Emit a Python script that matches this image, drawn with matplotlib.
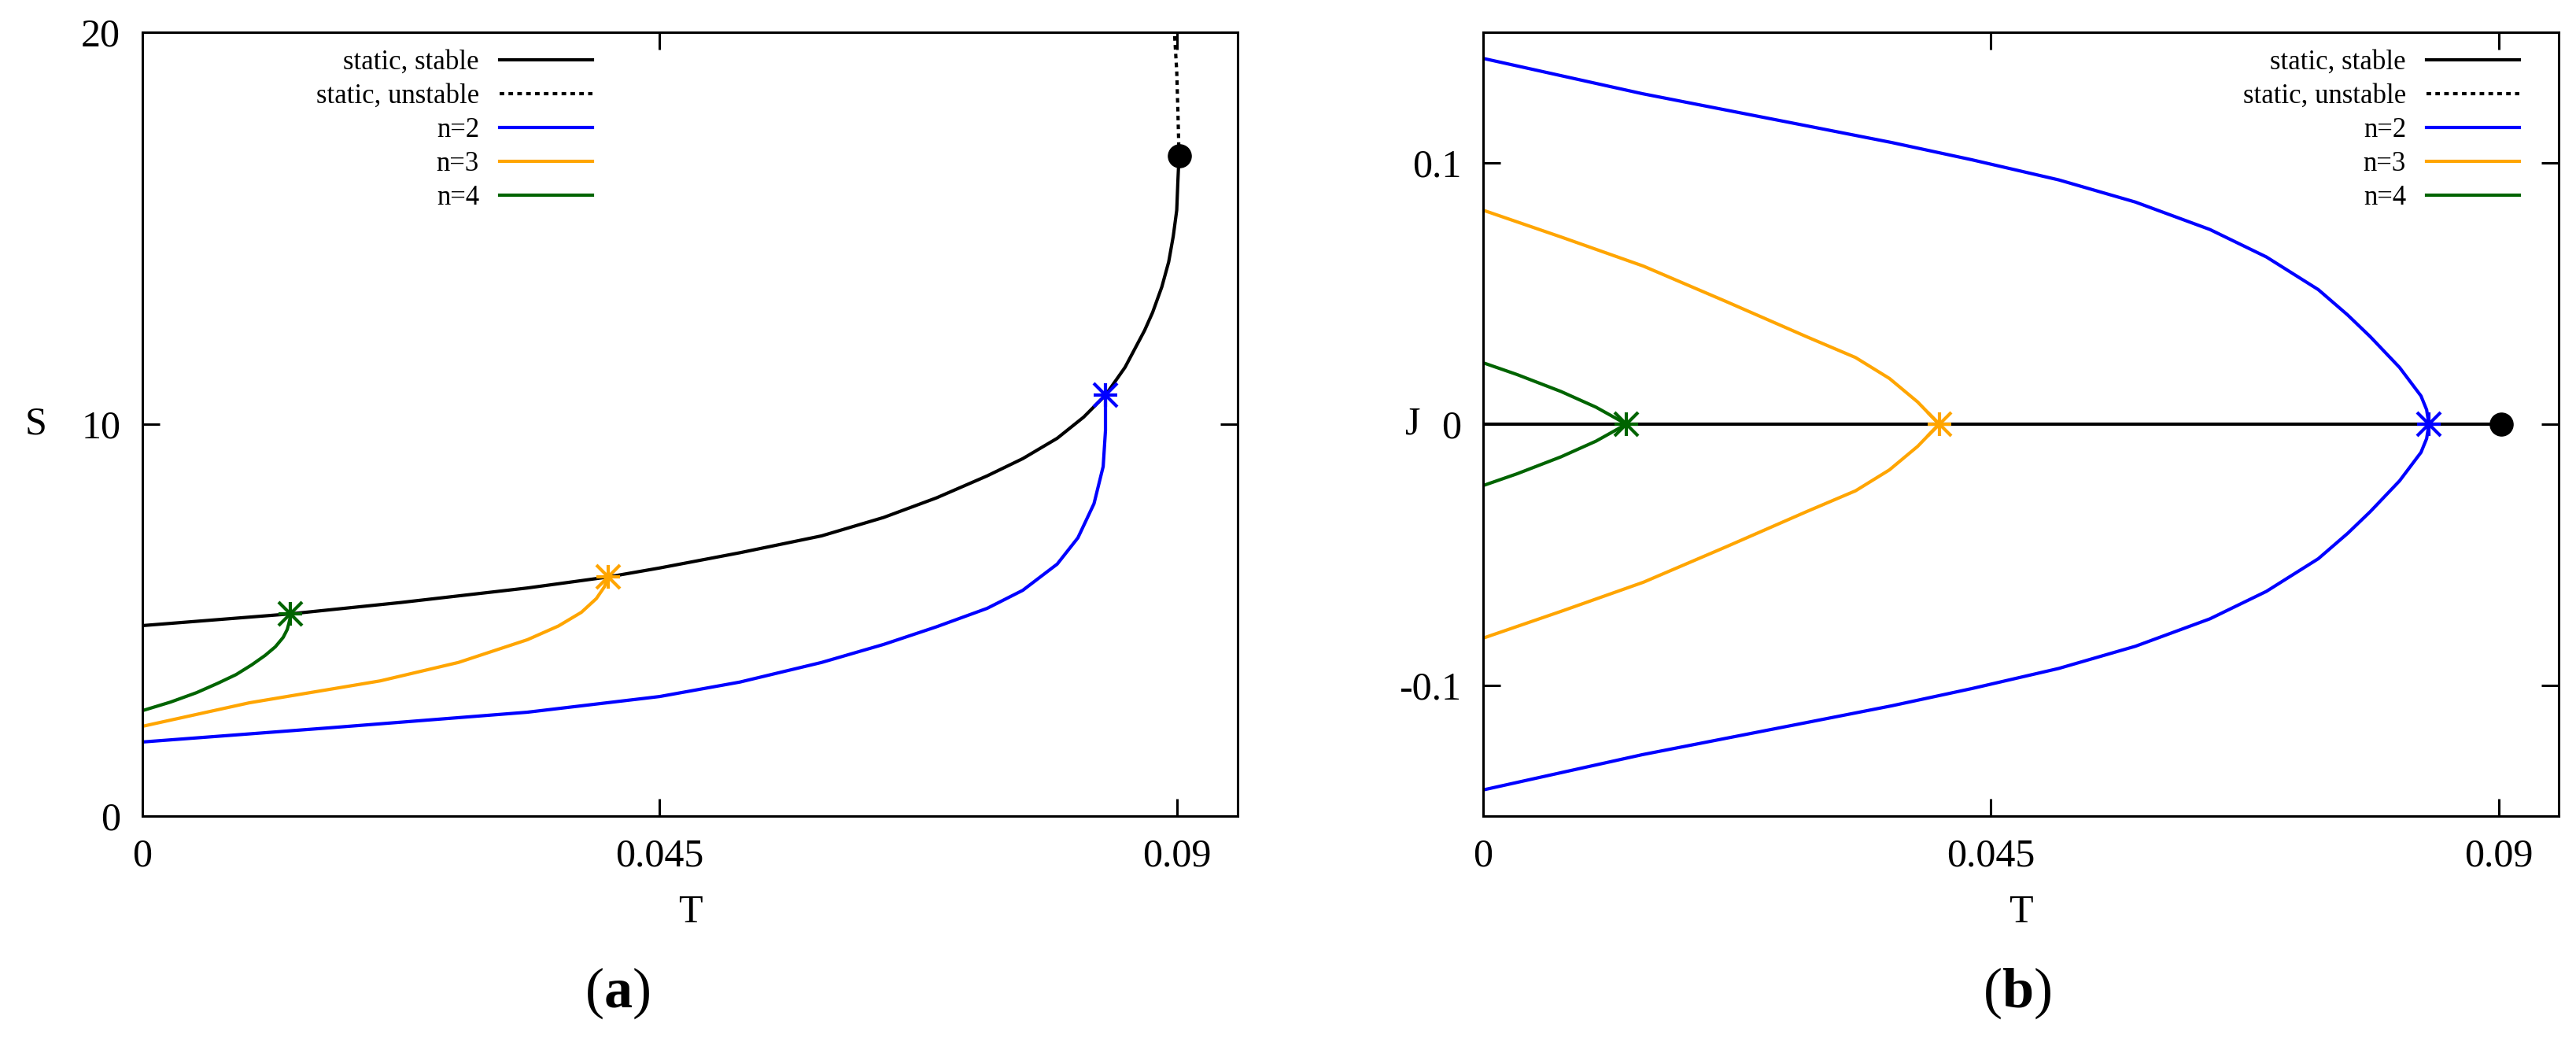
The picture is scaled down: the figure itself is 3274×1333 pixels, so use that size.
import numpy as np
import matplotlib
matplotlib.use('Agg')
import matplotlib.pyplot as plt
from matplotlib.lines import Line2D

plt.rcParams['font.family'] = ['Liberation Serif', 'DejaVu Serif']
plt.rcParams['mathtext.fontset'] = 'custom'
plt.rcParams['mathtext.rm'] = 'Liberation Serif'
plt.rcParams['mathtext.bf'] = 'Liberation Serif:bold'

# ---- data ----
# panel (a): S vs T
t_stable = [0.0, 0.0129, 0.0225, 0.0335, 0.0405, 0.045, 0.052, 0.0591, 0.0645, 0.0691,
            0.0735, 0.0766, 0.0796, 0.0819, 0.0838, 0.0855, 0.0872, 0.0879, 0.0887,
            0.0893, 0.0897, 0.0900, 0.0901, 0.0902]
s_stable = [4.86, 5.16, 5.45, 5.82, 6.10, 6.33, 6.72, 7.15, 7.62, 8.12,
            8.68, 9.12, 9.64, 10.18, 10.74, 11.45, 12.39, 12.85, 13.5,
            14.14, 14.8, 15.46, 16.2, 16.85]
t_unstable = [0.0902, 0.0901, 0.0900, 0.0898]
s_unstable = [16.85, 18.0, 19.0, 20.0]

t_n2 = [0.0, 0.0162, 0.0335, 0.045, 0.052, 0.0591, 0.0645, 0.0691, 0.0735, 0.0766,
        0.0796, 0.0814, 0.0828, 0.0836, 0.0838, 0.0838]
s_n2 = [1.89, 2.25, 2.65, 3.05, 3.42, 3.92, 4.38, 4.83, 5.30, 5.76,
        6.43, 7.10, 7.97, 8.92, 9.84, 10.74]
t_n3 = [0.0, 0.0093, 0.0207, 0.0275, 0.0335, 0.0362, 0.0382, 0.0395, 0.0402, 0.0405]
s_n3 = [2.29, 2.89, 3.45, 3.92, 4.50, 4.85, 5.20, 5.55, 5.85, 6.10]
t_n4 = [0.0, 0.00246, 0.00472, 0.00657, 0.00815, 0.00952, 0.01068, 0.01157, 0.01225,
        0.0126, 0.01273, 0.01285, 0.0129]
s_n4 = [2.69, 2.91, 3.15, 3.39, 3.61, 3.86, 4.10, 4.32, 4.56, 4.76, 4.90, 5.05, 5.16]

# bifurcation points (a)
bif_t = [0.0838, 0.0405, 0.0129]
bif_s = [10.74, 6.10, 5.16]
crit_t = 0.0902
crit_s = 16.85

# panel (b): J vs T  (upper branch then lower branch)
tj_static = [0.0, 0.0902]
j_static = [0.0, 0.0]
tj_n2 = [0.0, 0.0141, 0.0289, 0.0362, 0.0433, 0.051, 0.0578, 0.0644, 0.0694, 0.074,
         0.0766, 0.0786, 0.0812, 0.0831, 0.0836, 0.0838,
         0.0836, 0.0831, 0.0812, 0.0786, 0.0766, 0.074, 0.0694, 0.0644, 0.0578, 0.051,
         0.0433, 0.0362, 0.0289, 0.0141, 0.0]
j_n2 = [0.140, 0.1265, 0.1140, 0.1078, 0.1012, 0.0935, 0.0850, 0.0745, 0.0640, 0.0515,
        0.0418, 0.0335, 0.0217, 0.0108, 0.0055, 0.0,
        -0.0055, -0.0108, -0.0217, -0.0335, -0.0418, -0.0515, -0.0640, -0.0745, -0.0850,
        -0.0935, -0.1012, -0.1078, -0.1140, -0.1265, -0.140]
tj_n3 = [0.0, 0.007, 0.0142, 0.0215, 0.0287, 0.033, 0.036, 0.0385, 0.0404,
         0.0385, 0.036, 0.033, 0.0287, 0.0215, 0.0142, 0.007, 0.0]
j_n3 = [0.0819, 0.0715, 0.0605, 0.047, 0.0334, 0.0255, 0.0175, 0.0085, 0.0,
        -0.0085, -0.0175, -0.0255, -0.0334, -0.047, -0.0605, -0.0715, -0.0819]
tj_n4 = [0.0, 0.003, 0.0069, 0.0100, 0.0127, 0.0100, 0.0069, 0.003, 0.0]
j_n4 = [0.0235, 0.0190, 0.0125, 0.0065, 0.0, -0.0065, -0.0125, -0.0190, -0.0235]
bif_tj = [0.0838, 0.0404, 0.0127]

labels = ['static, stable', 'static, unstable', 'n=2', 'n=3', 'n=4']
colors = ['black', 'black', '#0000ff', '#ffa500', '#006400']

LW = 3.0
DOT = (0, (1.4, 1.3))

fig = plt.figure(figsize=(32.74, 13.33), dpi=100)
ax1 = fig.add_axes([181/3274, 1 - 1037/1333, (1573-181)/3274, 996/1333])
ax2 = fig.add_axes([1885/3274, 1 - 1037/1333, (3252-1885)/3274, 996/1333])


def star(ax, x, y, c):
    ax.plot(x, y, ls='none', marker='+', ms=22, mew=3, color=c, zorder=5)
    ax.plot(x, y, ls='none', marker='x', ms=22, mew=3, color=c, zorder=5)


# (a)
ax1.plot(t_stable, s_stable, color='black', lw=LW)
ax1.plot(t_unstable, s_unstable, color='black', lw=LW, ls=DOT)
ax1.plot(t_n2, s_n2, color=colors[2], lw=LW)
ax1.plot(t_n3, s_n3, color=colors[3], lw=LW)
ax1.plot(t_n4, s_n4, color=colors[4], lw=LW)
for i in range(3):
    star(ax1, bif_t[i], bif_s[i], colors[2 + i])
ax1.plot(crit_t, crit_s, 'o', color='black', ms=21, zorder=6)
ax1.set_xlim(0, 0.0953)
ax1.set_ylim(0, 20)
ax1.set_xticks([0, 0.045, 0.09])
ax1.set_xticklabels(['0', '0.045', '0.09'])
ax1.set_yticks([0, 10, 20])
ax1.set_xlabel('T', fontsize=36, labelpad=18)
ax1.set_ylabel('S', fontsize=36, rotation=0, ha='center', va='center')
ax1.yaxis.set_label_coords(-0.097, 0.5)

# (b)
ax2.plot(tj_static, j_static, color='black', lw=LW)
ax2.plot(tj_n2, j_n2, color=colors[2], lw=LW)
ax2.plot(tj_n3, j_n3, color=colors[3], lw=LW)
ax2.plot(tj_n4, j_n4, color=colors[4], lw=LW)
for i in range(3):
    star(ax2, bif_tj[i], 0.0, colors[2 + i])
ax2.plot(crit_t, 0.0, 'o', color='black', ms=21, zorder=6)
ax2.set_xlim(0, 0.0953)
ax2.set_ylim(-0.15, 0.15)
ax2.set_xticks([0, 0.045, 0.09])
ax2.set_xticklabels(['0', '0.045', '0.09'])
ax2.set_yticks([-0.1, 0, 0.1])
ax2.set_yticklabels(['-0.1', '0', '0.1'])
ax2.set_xlabel('T', fontsize=36, labelpad=18)
ax2.set_ylabel('J', fontsize=36, rotation=0, ha='center', va='center')
ax2.yaxis.set_label_coords(-0.065, 0.5)

handles = [Line2D([], [], color='black', lw=LW),
           Line2D([], [], color='black', lw=LW, ls=DOT),
           Line2D([], [], color=colors[2], lw=LW),
           Line2D([], [], color=colors[3], lw=LW),
           Line2D([], [], color=colors[4], lw=LW)]

for ax, xr in [(ax1, 753), (ax2, 3202)]:
    ax.tick_params(direction='in', length=16, width=2.2, labelsize=36, pad=20,
                   top=True, right=True)
    for sp in ax.spines.values():
        sp.set_linewidth(2.2)
    fig.legend(handles, labels, loc='upper right', bbox_to_anchor=(xr/3274, 1 - 63/1333),
               frameon=False, markerfirst=False, fontsize=25, handlelength=3.4,
               handletextpad=0.75, labelspacing=0.29, borderpad=0, borderaxespad=0)

fig.text(785/3274, 1 - 1262/1333, r'($\mathbf{a}$)', fontsize=52, ha='center', va='center')
fig.text(2564/3274, 1 - 1262/1333, r'($\mathbf{b}$)', fontsize=52, ha='center', va='center')

fig.savefig('out.png', dpi=100)
